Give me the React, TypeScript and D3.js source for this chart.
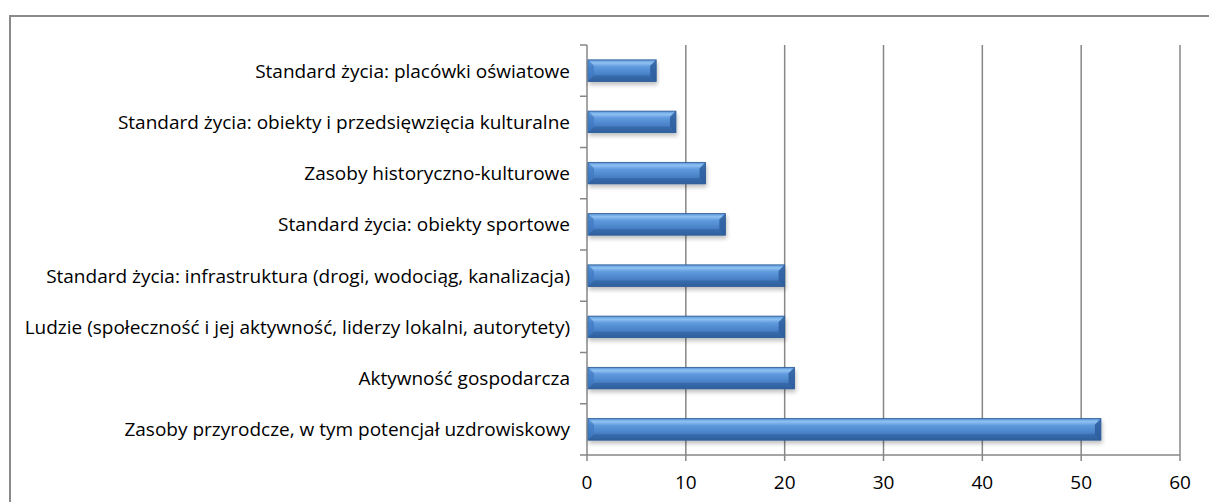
import React from "react";
import * as d3 from "d3";

const categories = [
  "Standard życia: placówki oświatowe",
  "Standard życia: obiekty i przedsięwzięcia kulturalne",
  "Zasoby historyczno-kulturowe",
  "Standard życia: obiekty sportowe",
  "Standard życia: infrastruktura (drogi, wodociąg, kanalizacja)",
  "Ludzie (społeczność i jej aktywność, liderzy lokalni, autorytety)",
  "Aktywność gospodarcza",
  "Zasoby przyrodcze, w tym potencjał uzdrowiskowy",
];
const values = [7, 9, 12, 14, 20, 20, 21, 52];
const xTicks = [0, 10, 20, 30, 40, 50, 60];

const W = 1209;
const H = 502;
const left = 587;
const right = 1180;
const top = 45;
const bottom = 455;
const FONT = "'Open Sans', Lato, sans-serif";
const FS = 19;

export default function App() {
  const x = d3.scaleLinear().domain([0, 60]).range([left, right]);
  const y = d3.scaleBand<string>().domain(categories).range([top, bottom]).paddingInner(0.58).paddingOuter(0.29);
  const band = d3.scaleBand<string>().domain(categories).range([top, bottom]);
  const bh = y.bandwidth();
  const bev = 6;
  const grid = "#878787";
  return (
    <svg width={W} height={H} style={{ position: "absolute", left: 0, top: 0 }} fontFamily={FONT}>
      <defs>
        <linearGradient id="barg" x1="0" y1="0" x2="0" y2="1">
          <stop offset="0" stopColor="#5592d8" />
          <stop offset="0.14" stopColor="#8fc2f2" />
          <stop offset="0.32" stopColor="#5f9ade" />
          <stop offset="0.65" stopColor="#4a82c8" />
          <stop offset="1" stopColor="#2f5f9e" />
        </linearGradient>
        <filter id="sh" x="-5%" y="-20%" width="110%" height="160%">
          <feGaussianBlur in="SourceAlpha" stdDeviation="2" />
          <feOffset dx="1" dy="3" result="b" />
          <feComponentTransfer>
            <feFuncA type="linear" slope="0.25" />
          </feComponentTransfer>
          <feMerge>
            <feMergeNode />
            <feMergeNode in="SourceGraphic" />
          </feMerge>
        </filter>
      </defs>
      <rect x={0} y={0} width={W} height={H} fill="#fff" />
      <rect x={10} y={16} width={W + 10} height={H + 10} fill="none" stroke="#8a8a8a" strokeWidth={2} />
      {xTicks.slice(1).map((t) => (
        <line key={t} x1={x(t)} x2={x(t)} y1={top} y2={bottom} stroke={grid} strokeWidth={1.5} />
      ))}
      <line x1={left} x2={left} y1={top} y2={bottom} stroke={grid} strokeWidth={1.5} />
      <line x1={left} x2={right} y1={bottom} y2={bottom} stroke={grid} strokeWidth={1.5} />
      {xTicks.map((t) => (
        <line key={"t" + t} x1={x(t)} x2={x(t)} y1={bottom} y2={bottom + 6} stroke={grid} strokeWidth={1.5} />
      ))}
      {categories.map((c) => (
        <line key={"c" + c} x1={left - 7} x2={left} y1={band(c)!} y2={band(c)!} stroke={grid} strokeWidth={1.5} />
      ))}
      <line x1={left - 7} x2={left} y1={bottom} y2={bottom} stroke={grid} strokeWidth={1.5} />
      {categories.map((c, i) => {
        const y0 = y(c)!;
        const x0 = x(0) + 1;
        const x1 = x(values[i]);
        return (
          <g key={"b" + c} filter="url(#sh)">
            <rect x={x0} y={y0} width={x1 - x0} height={bh} fill="url(#barg)" stroke="#2c5890" strokeWidth={0.8} />
            <polygon
              points={`${x0},${y0} ${x0 + bev},${y0 + bev} ${x0 + bev},${y0 + bh - bev} ${x0},${y0 + bh}`}
              fill="#3f79c2"
              opacity={0.7}
            />
            <polygon
              points={`${x1},${y0} ${x1 - bev},${y0 + bev} ${x1 - bev},${y0 + bh - bev} ${x1},${y0 + bh}`}
              fill="#2d5d9c"
              opacity={0.85}
            />
            <polygon
              points={`${x0},${y0 + bh} ${x0 + bev},${y0 + bh - bev} ${x1 - bev},${y0 + bh - bev} ${x1},${y0 + bh}`}
              fill="#30609e"
              opacity={0.6}
            />
          </g>
        );
      })}
      {categories.map((c) => (
        <text
          key={"l" + c}
          x={570}
          y={band(c)! + band.bandwidth() / 2}
          textAnchor="end"
          dominantBaseline="central"
          fontSize={FS}
          fill="#000"
        >
          {c}
        </text>
      ))}
      {xTicks.map((t) => (
        <text key={"x" + t} x={x(t)} y={482} textAnchor="middle" dominantBaseline="central" fontSize={FS} fill="#000">
          {t}
        </text>
      ))}
    </svg>
  );
}
